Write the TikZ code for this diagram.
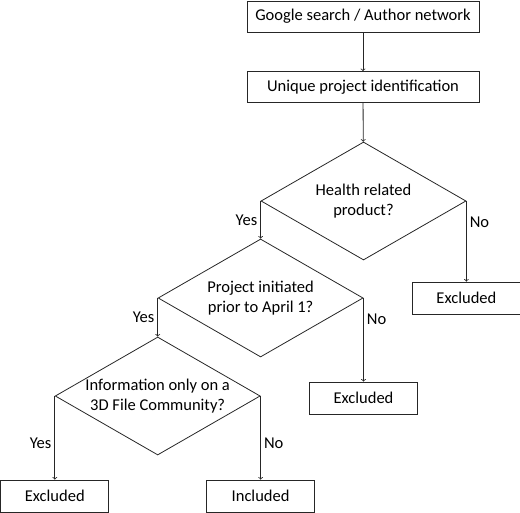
\documentclass[tikz,border=0pt]{standalone}
\usepackage{fontspec}
\setmainfont{Carlito}
\usepackage{tikz}
\usetikzlibrary{shapes}
\usetikzlibrary{arrows}
\tikzset{
	flownode/.style = {
		align=center,
		font=\fontsize{16.5}{20}\selectfont,
		draw=black!85,
		line width=0.8pt
	},
	node_box/.style = {
		flownode,
		rectangle,
		minimum width=108pt,
		minimum height=32pt,
		inner sep=2pt
	},
	node_box_wide/.style = {
		node_box,
		minimum width=232pt,
		minimum height=31pt
	},
	node_dec/.style = {
		flownode,
		diamond,
		aspect=1.74,
		inner sep=-4pt,
		minimum width=205pt,
		minimum height=118pt
	},
	node_lbl/.style = {
		font=\fontsize{16.5}{20}\selectfont,
		inner sep=3pt
	},
	flowline/.style = {
		draw=black!85,
		line width=0.8pt
	},
}

\begin{document}
\begin{tikzpicture}[->,>=to,x=1pt,y=-1pt]
\useasboundingbox (0,0) rectangle (520,513);
\node [node_box_wide] (search) at (363,16.5) {Google search / Author network};
\node [node_box_wide] (unique) at (363,87) {Unique project identification};
\node [node_dec] (health) at (363.5,201) {Health related\\product?};
\node [node_dec] (april) at (health.west |- 0,298) {Project initiated\\prior to April 1?};
\node [node_dec] (community) at (april.west |- 0,396) {Information only on a\\3D File Community?};
\node [node_box] (excl_health) at (health.east |- april) {Excluded};
\node [node_box] (excl_april) at (april.east |- 0,398) {Excluded};
\node [node_box] (excl_community) at (community.west |- 0,496) {Excluded};
\node [node_box] (incl) at (community.east |- excl_community) {Included};

\draw [flowline] (search) -- (unique);
\draw [flowline] (unique) -- (health);
\draw [flowline] (health.west) -- node [node_lbl, left] {Yes} (april.north);
\draw [flowline] (health.east) -- node [node_lbl, right, pos=0.26] {No} (excl_health.north);
\draw [flowline] (april.west) -- node [node_lbl, left] {Yes} (community.north);
\draw [flowline] (april.east) -- node [node_lbl, right, pos=0.26] {No} (excl_april.north);
\draw [flowline] (community.west) -- node [node_lbl, left, pos=0.56] {Yes} (excl_community.north);
\draw [flowline] (community.east) -- node [node_lbl, right, pos=0.56] {No} (incl.north);
\end{tikzpicture}
\end{document}
